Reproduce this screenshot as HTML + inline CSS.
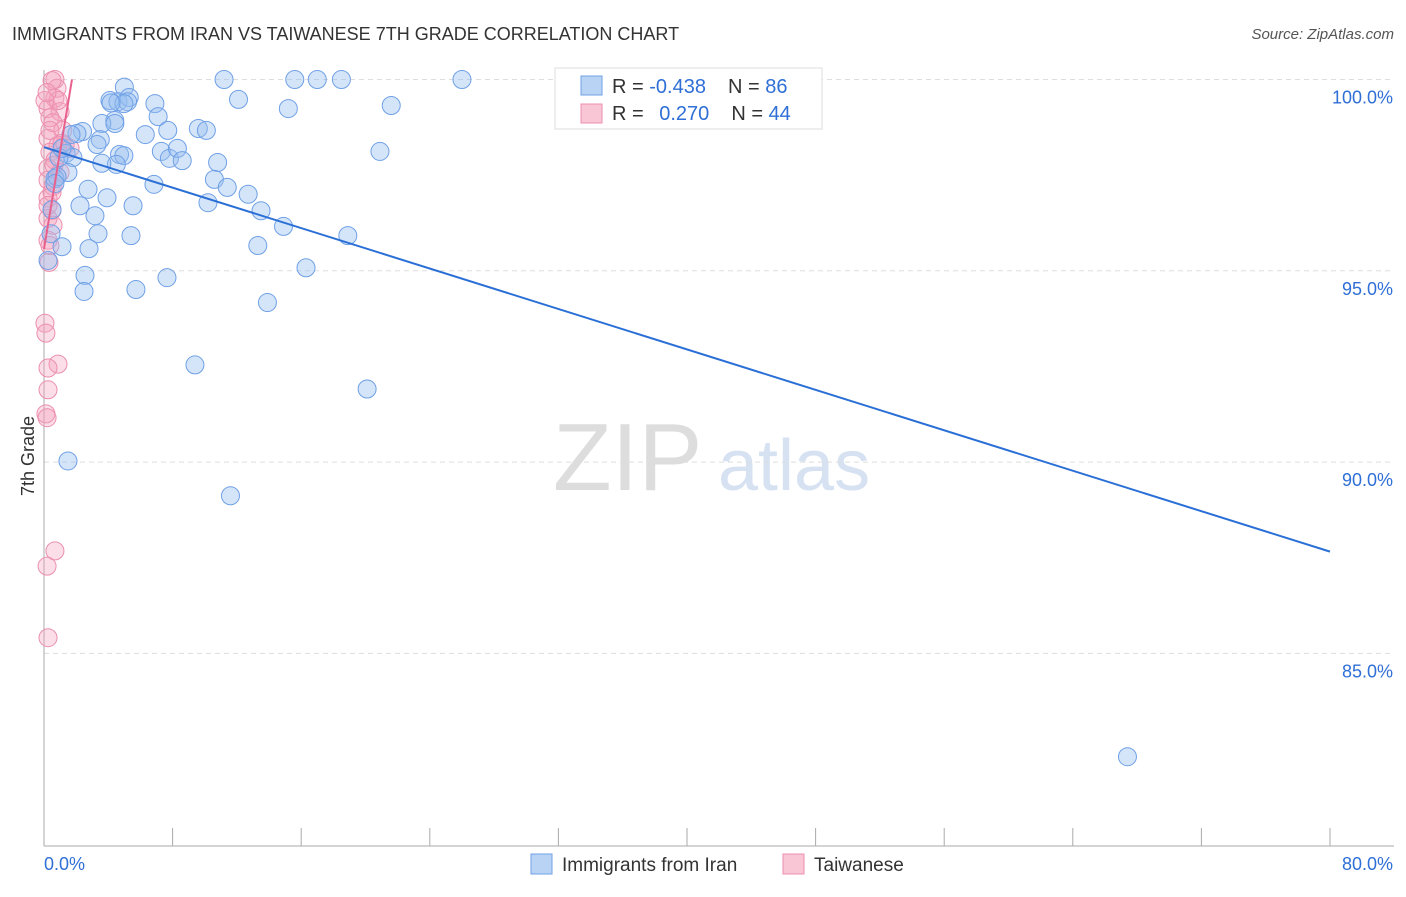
<!DOCTYPE html>
<html><head><meta charset="utf-8"><style>
body{margin:0;background:#fff;font-family:"Liberation Sans",sans-serif;}
svg text{font-family:"Liberation Sans",sans-serif;}
</style></head><body>
<svg id="chart" width="1406" height="892" xmlns="http://www.w3.org/2000/svg">
<text x="12" y="40" font-size="18" fill="#333">IMMIGRANTS FROM IRAN VS TAIWANESE 7TH GRADE CORRELATION CHART</text>
<text x="1394" y="39" font-size="15" fill="#555" text-anchor="end" font-style="italic">Source: ZipAtlas.com</text>
<text x="553" y="490" font-size="96" fill="#ddd" font-family="Liberation Serif">ZIP</text>
<text x="718" y="490" font-size="72" fill="#d6e2f2">atlas</text>
<text transform="translate(34,456) rotate(-90)" font-size="18" fill="#333" text-anchor="middle">7th Grade</text>
<g id="grid"></g><g id="axes"></g><g id="pink"></g><g id="blue"></g><g id="lines"></g>
<g>
<rect x="555" y="68" width="267" height="61" fill="#fff" stroke="#ddd"/>
<rect x="581" y="76" width="21" height="19" fill="#b9d3f5" stroke="#6fa0e6"/>
<rect x="581" y="104" width="21" height="19" fill="#f9c6d6" stroke="#ec8fae"/>
<text x="612" y="93" font-size="20" fill="#333">R = <tspan fill="#2f6fd6">-0.438</tspan><tspan dx="22">N = </tspan><tspan fill="#2f6fd6">86</tspan></text>
<text x="612" y="120" font-size="20" fill="#333">R = <tspan fill="#2f6fd6" dx="10">0.270</tspan><tspan dx="22">N = </tspan><tspan fill="#2f6fd6">44</tspan></text>
</g>
<g>
<rect x="531" y="854" width="21" height="20" fill="#b9d3f5" stroke="#6fa0e6"/>
<text x="562" y="871" font-size="19" fill="#333">Immigrants from Iran</text>
<rect x="783" y="854" width="21" height="20" fill="#f9c6d6" stroke="#ec8fae"/>
<text x="814" y="871" font-size="19" fill="#333">Taiwanese</text>
</g>
</svg>
<script>
const yTicks=[100,95,90,85];
const yTickLabels=["100.0%","95.0%","90.0%","85.0%"];
const xTickLabels=["0.0%","80.0%"];
const blueX=[5.0,11.2,15.6,17.0,18.5,26.0,4.1,4.6,5.3,6.9,12.1,15.2,21.6,7.1,4.4,3.6,5.2,4.97,2.4,2.05,6.3,7.7,9.6,10.1,3.5,4.7,4.97,4.5,7.3,7.8,8.3,8.6,10.8,20.9,1.37,1.8,0.93,3.3,3.6,1.49,0.68,2.74,6.84,10.6,11.4,12.7,3.92,2.24,5.54,10.2,13.5,3.17,0.5,14.9,18.9,3.36,5.41,0.44,1.12,2.8,13.3,16.3,2.55,7.65,2.49,5.72,13.9,9.39,20.1,1.49,11.6,67.4,0.81,1.12,0.68,4.41,0.25,1.68,4.17];
const blueY=[99.8,100,100,100,100,100,99.45,99.42,99.53,99.37,99.48,99.24,99.32,99.03,98.93,98.85,99.42,99.37,98.64,98.59,98.56,98.67,98.72,98.67,98.43,98.04,98.01,97.78,98.12,97.94,98.2,97.88,97.83,98.12,98.07,97.96,97.96,98.3,97.81,97.57,97.41,97.13,97.26,97.39,97.18,97.0,96.91,96.7,96.7,96.78,96.57,96.44,96.6,96.16,95.92,95.97,95.92,95.97,95.63,95.58,95.66,95.08,94.88,94.82,94.46,94.51,94.17,92.54,91.91,90.03,89.12,82.3,97.46,98.2,97.28,98.85,95.27,98.56,99.39];
const pinkX=[0.68,0.81,0.68,0.25,1.0,0.37,0.56,1.17,0.25,0.87,1.31,0.37,0.68,0.25,1.0,0.25,0.56,0.25,0.5,0.25,0.56,0.25,0.31,0.06,0.12,0.87,0.25,0.25,0.12,0.19,0.68,0.19,0.25,1.12,0.5,0.87,0.37,0.25,0.62,0.37,1.62,0.06,0.5,0.19];
const pinkY=[100,99.77,99.51,99.24,99.16,99.0,98.87,98.67,98.46,98.28,98.28,98.1,97.89,97.68,97.57,97.37,97.21,96.9,96.58,96.37,96.19,95.8,95.22,93.63,93.37,92.56,92.46,91.89,91.26,91.16,87.68,87.28,85.41,98.33,97.05,99.45,98.67,96.71,97.76,95.66,98.2,99.45,99.97,99.66];
const blueLineX=[0,80], blueLineY=[98.23,87.66];
const pinkLineX=[0,1.74], pinkLineY=[95.57,100];
const X=v=>44+v/80*1286, Y=v=>79.5+(100-v)/5*191.3;
const NS="http://www.w3.org/2000/svg";
function mk(tag,attrs,parent){const e=document.createElementNS(NS,tag);for(const k in attrs)e.setAttribute(k,attrs[k]);document.getElementById(parent).appendChild(e);return e;}
yTicks.forEach((t,i)=>{
 const g=mk('line',{x1:44,x2:1394,y1:Y(t),y2:Y(t),stroke:'#ddd','stroke-dasharray':'5,4'},'grid');
 
 
 const tx=mk('text',{x:1393,y:Y(t)+24,'font-size':18,fill:'#2f6fd6','text-anchor':'end'},'axes');tx.textContent=yTickLabels[i];
 
 
});
const ax=mk('line',{x1:44,x2:44,y1:70,y2:846,stroke:'#aaa'},'axes');


const bx=mk('line',{x1:44,x2:1394,y1:846,y2:846,stroke:'#aaa'},'axes');


for(let i=1;i<=10;i++){const t=mk('line',{x1:X(i*8),x2:X(i*8),y1:828,y2:846,stroke:'#aaa'},'axes');
 
 }
const xl0=mk('text',{x:44,y:870,'font-size':18,fill:'#2f6fd6'},'axes');xl0.textContent=xTickLabels[0];


const xl1=mk('text',{x:1393,y:870,'font-size':18,fill:'#2f6fd6','text-anchor':'end'},'axes');xl1.textContent=xTickLabels[1];


pinkX.forEach((v,i)=>{const c=mk('circle',{cx:X(v),cy:Y(pinkY[i]),r:9,fill:'rgba(244,160,190,0.35)',stroke:'#ec8fae','stroke-width':1},'pink');
 
 });
blueX.forEach((v,i)=>{const c=mk('circle',{cx:X(v),cy:Y(blueY[i]),r:9,fill:'rgba(150,190,240,0.4)',stroke:'#6fa0e6','stroke-width':1},'blue');
 
 });
const bl=mk('line',{x1:X(blueLineX[0]),y1:Y(blueLineY[0]),x2:X(blueLineX[1]),y2:Y(blueLineY[1]),stroke:'#2a6fd6','stroke-width':2},'lines');


const pl=mk('line',{x1:X(pinkLineX[0]),y1:Y(pinkLineY[0]),x2:X(pinkLineX[1]),y2:Y(pinkLineY[1]),stroke:'#e8608d','stroke-width':2},'lines');


</script>
</body></html>
